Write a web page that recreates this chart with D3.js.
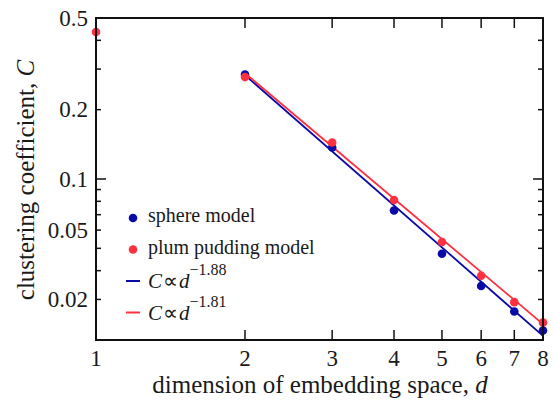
<!DOCTYPE html>
<html>
<head>
<meta charset="utf-8">
<script src="https://cdn.jsdelivr.net/npm/d3@7"></script>
<style>
  body { margin: 0; background: #fff; }
</style>
</head>
<body>
<div id="vis"></div>
<script>
// Data -----------------------------------------------------------------------------------------------------------
const sphereD = [2, 3, 4, 5, 6, 7, 8];
const sphereC = [0.284, 0.137, 0.073, 0.0474, 0.0343, 0.0266, 0.022];
const plumD = [1, 2, 3, 4, 5, 6, 7, 8];
const plumC = [0.435, 0.277, 0.144, 0.081, 0.0533, 0.038, 0.0292, 0.0238];

const fitExponents = [-1.88, -1.81];
const fitPrefactors = [1.04, 1.01];
const fitRange = [2, 8];

const xTicks = [1, 2, 3, 4, 5, 6, 7, 8];
const yMajorTicks = [0.1];
const yMinorTicks = [0.4, 0.3, 0.2, 0.09, 0.08, 0.07, 0.06, 0.05, 0.04, 0.03];
// tick labels as they sit in the original figure
const yLabelValues = [0.5, 0.2, 0.1, 0.06, 0.03];
const yLabelTexts = ["0.5", "0.2", "0.1", "0.05", "0.02"];

const blue = "#0a0aa8";
const red = "#ff3040";
const serif = "'Liberation Serif'";
const textColor = "#1a1a1a";

// Canvas ---------------------------------------------------------------------------------------------------------
const canvasWidth = 554;
const canvasHeight = 401;
const leftPadding = 96;
const rightPadding = 11;
const topPadding = 18;
const bottomPadding = 61;

const svg = d3.select("#vis")
  .append("svg")
  .attr("width", canvasWidth)
  .attr("height", canvasHeight);

const xScale = d3.scaleLog()
  .domain([1, 8])
  .range([leftPadding, canvasWidth - rightPadding]);
const yScale = d3.scaleLog()
  .domain([0.02, 0.5])
  .range([canvasHeight - bottomPadding, topPadding]);

const x0 = xScale.range()[0], x1 = xScale.range()[1];
const y0 = yScale.range()[0], y1 = yScale.range()[1];

// Ticks (inward, on all four sides) ------------------------------------------------------------------------------
const tickGroup = svg.append("g").attr("stroke", "#111").attr("stroke-width", 1.5);

xTicks.slice(1, -1).forEach(function(t) {
  tickGroup.append("line").attr("x1", xScale(t)).attr("x2", xScale(t)).attr("y1", y0).attr("y2", y0 - 10);
  tickGroup.append("line").attr("x1", xScale(t)).attr("x2", xScale(t)).attr("y1", y1).attr("y2", y1 + 10);
});
yMajorTicks.forEach(function(t) {
  tickGroup.append("line").attr("x1", x0).attr("x2", x0 + 10).attr("y1", yScale(t)).attr("y2", yScale(t));
  tickGroup.append("line").attr("x1", x1).attr("x2", x1 - 10).attr("y1", yScale(t)).attr("y2", yScale(t));
});
yMinorTicks.forEach(function(t) {
  tickGroup.append("line").attr("x1", x0).attr("x2", x0 + 5).attr("y1", yScale(t)).attr("y2", yScale(t));
  tickGroup.append("line").attr("x1", x1).attr("x2", x1 - 5).attr("y1", yScale(t)).attr("y2", yScale(t));
});

// Fit lines ------------------------------------------------------------------------------------------------------
const fitColors = [blue, red];
fitExponents.forEach(function(p, i) {
  const pts = fitRange.map(d => [d, fitPrefactors[i] * Math.pow(d, p)]);
  svg.append("path")
    .attr("d", d3.line().x(d => xScale(d[0])).y(d => yScale(d[1]))(pts))
    .attr("fill", "none")
    .attr("stroke", fitColors[i])
    .attr("stroke-width", 1.8);
});

// Points ---------------------------------------------------------------------------------------------------------
svg.append("g").selectAll("circle")
  .data(d3.zip(sphereD, sphereC))
  .enter()
  .append("circle")
  .attr("cx", d => xScale(d[0]))
  .attr("cy", d => yScale(d[1]))
  .attr("r", 4.3)
  .attr("fill", blue);

svg.append("g").selectAll("circle")
  .data(d3.zip(plumD, plumC))
  .enter()
  .append("circle")
  .attr("cx", d => xScale(d[0]))
  .attr("cy", d => yScale(d[1]))
  .attr("r", 4.3)
  .attr("fill", red);

// Frame ----------------------------------------------------------------------------------------------------------
svg.append("rect")
  .attr("x", x0)
  .attr("y", y1)
  .attr("width", x1 - x0)
  .attr("height", y0 - y1)
  .attr("fill", "none")
  .attr("stroke", "#111")
  .attr("stroke-width", 2);

// Tick labels ----------------------------------------------------------------------------------------------------
const tickFontSize = 23;

svg.append("g").selectAll("text")
  .data(xTicks)
  .enter()
  .append("text")
  .text(d => d)
  .attr("x", d => xScale(d))
  .attr("y", y0 + 26)
  .attr("fill", textColor)
  .style("font-family", serif)
  .style("text-anchor", "middle")
  .style("font-size", tickFontSize);

svg.append("g").selectAll("text")
  .data(d3.zip(yLabelValues, yLabelTexts))
  .enter()
  .append("text")
  .text(d => d[1])
  .attr("x", x0 - 8)
  .attr("y", d => yScale(d[0]))
  .attr("dy", "0.33em")
  .attr("fill", textColor)
  .style("font-family", serif)
  .style("text-anchor", "end")
  .style("font-size", tickFontSize);

// Axis titles ----------------------------------------------------------------------------------------------------
const titleFontSize = 25;

const xTitle = svg.append("text")
  .attr("x", 320)
  .attr("y", 393)
  .attr("fill", textColor)
  .style("font-family", serif)
  .style("text-anchor", "middle")
  .style("font-size", titleFontSize);
xTitle.append("tspan").text("dimension of embedding space, ");
xTitle.append("tspan").text("d").style("font-style", "italic");

const yTitle = svg.append("text")
  .attr("transform", "translate(" + 34 + "," + 180 + ") rotate(-90)")
  .attr("fill", textColor)
  .style("font-family", serif)
  .style("text-anchor", "middle")
  .style("font-size", titleFontSize);
yTitle.append("tspan").text("clustering coefficient, ");
yTitle.append("tspan").text("C").style("font-style", "italic");

// Legend ---------------------------------------------------------------------------------------------------------
const legendFontSize = 20;
const legendSpacing = 31.5;
const legendGroup = svg.append("g")
  .attr("transform", "translate(" + 133 + "," + 218 + ")");

const legendItems = [
  {type: "dot", color: blue, label: "sphere model"},
  {type: "dot", color: red, label: "plum pudding model"},
  {type: "line", color: blue, exp: fitExponents[0]},
  {type: "line", color: red, exp: fitExponents[1]}
];

legendItems.forEach(function(item, i) {
  const yy = i * legendSpacing + (item.type === "line" ? 0 : 0);
  if (item.type === "dot") {
    legendGroup.append("circle").attr("cx", 0).attr("cy", yy).attr("r", 4.3).attr("fill", item.color);
    legendGroup.append("text")
      .text(item.label)
      .attr("x", 15)
      .attr("y", yy + 4)
      .attr("fill", textColor)
      .style("font-family", serif)
      .style("font-size", legendFontSize);
  } else {
    legendGroup.append("line")
      .attr("x1", -7).attr("x2", 7).attr("y1", yy).attr("y2", yy)
      .attr("stroke", item.color).attr("stroke-width", 2);
    const t = legendGroup.append("text")
      .attr("x", 15)
      .attr("y", yy + 7)
      .attr("fill", textColor)
      .style("font-family", serif)
      .style("font-size", legendFontSize + 1);
    t.append("tspan").text("C").style("font-style", "italic");
    t.append("tspan").text("\u221D").attr("dx", 1);
    t.append("tspan").text("d").style("font-style", "italic").attr("dx", 1);
    t.append("tspan").text("\u2212" + Math.abs(item.exp).toFixed(2))
      .attr("dy", -13)
      .style("font-size", legendFontSize - 4);
  }
});
</script>
</body>
</html>
